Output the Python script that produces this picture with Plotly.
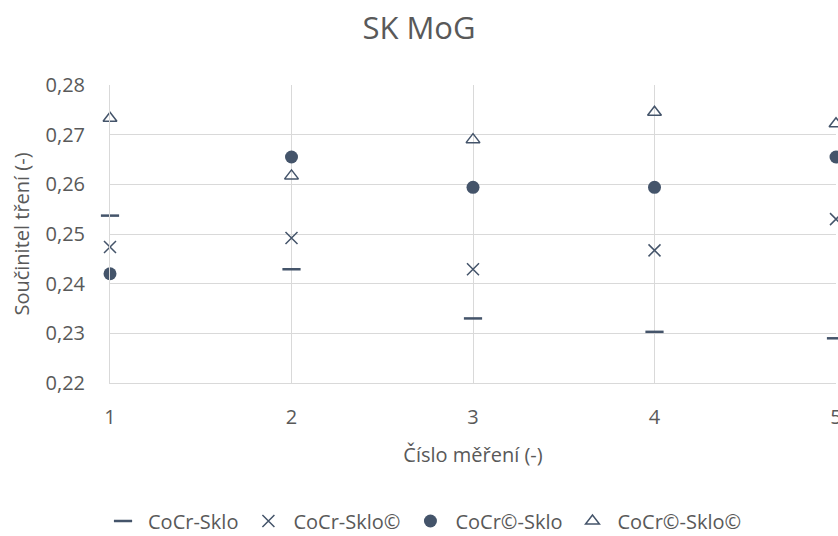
import plotly.graph_objects as go

measurements = [1, 2, 3, 4, 5]
cocr_sklo = [0.2537, 0.2429, 0.2330, 0.2303, 0.2290]
cocr_sklo_c = [0.2474, 0.2492, 0.2429, 0.2467, 0.2530]
cocrc_sklo = [0.2420, 0.2655, 0.2594, 0.2594, 0.2655]
cocrc_sklo_c = [0.2733, 0.2617, 0.2690, 0.2745, 0.2722]

series_names = ["CoCr-Sklo", "CoCr-Sklo©", "CoCr©-Sklo", "CoCr©-Sklo©"]

C = "#44546A"
GRID = "#D9D9D9"
TXT = "#595959"
FONT = "Open Sans"

fig = go.Figure()
fig.add_trace(go.Scatter(x=measurements, y=cocr_sklo, mode="markers", name=series_names[0],
                         cliponaxis=False,
                         marker=dict(symbol="line-ew", size=13, color=C, line=dict(color=C, width=2.5))))
fig.add_trace(go.Scatter(x=measurements, y=cocr_sklo_c, mode="markers", name=series_names[1],
                         cliponaxis=False,
                         marker=dict(symbol="x-thin", size=12, color=C, line=dict(color=C, width=1.5))))
fig.add_trace(go.Scatter(x=measurements, y=cocrc_sklo, mode="markers", name=series_names[2],
                         cliponaxis=False,
                         marker=dict(symbol="circle", size=13, color=C, line=dict(width=0))))
fig.add_trace(go.Scatter(x=measurements, y=cocrc_sklo_c, mode="markers", name=series_names[3],
                         cliponaxis=False,
                         marker=dict(symbol="triangle-up-open", size=12, color=C, line=dict(color=C, width=1.5))))

fig.update_layout(
    width=838, height=536,
    margin=dict(l=110, r=2, t=85, b=153, autoexpand=False),
    paper_bgcolor="white", plot_bgcolor="white",
    separators=", ",
    font=dict(family=FONT, size=20, color=TXT),
    title=dict(text="SK MoG", x=0.5, xanchor="center", y=1 - 28 / 536, yanchor="middle",
               font=dict(family=FONT, size=31, color=TXT)),
    showlegend=True,
    legend=dict(orientation="h", x=-0.0165, xanchor="left", y=-0.463, yanchor="middle",
                itemwidth=40,
                font=dict(family=FONT, size=20, color=TXT), bgcolor="rgba(0,0,0,0)"),
    xaxis=dict(range=[1, 5], dtick=1, tick0=1, showgrid=True, gridcolor=GRID, gridwidth=1,
               zeroline=False, showline=True, linecolor=GRID, linewidth=1, automargin=False,
               ticks="", ticklabelstandoff=16, ticklabeloverflow="allow",
               tickfont=dict(family=FONT, size=20, color=TXT),
               title=dict(text="Číslo měření (-)", standoff=18, font=dict(family=FONT, size=20, color=TXT))),
    yaxis=dict(range=[0.22, 0.28], dtick=0.01, tick0=0.22, tickformat=".2f",
               showgrid=True, gridcolor=GRID, gridwidth=1,
               zeroline=False, showline=True, linecolor=GRID, linewidth=1, automargin=False,
               ticks="", ticklabelstandoff=20,
               tickfont=dict(family=FONT, size=20, color=TXT),
               title=dict(text="Součinitel tření (-)", standoff=10, font=dict(family=FONT, size=20, color=TXT))),
)

fig.write_html("out.html", config={"displayModeBar": False},
               post_script="document.body.style.margin='0';document.body.style.overflow='hidden';")
